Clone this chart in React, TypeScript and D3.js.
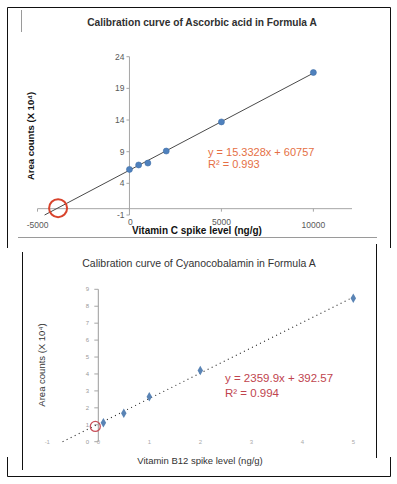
import React, { useEffect, useRef } from "react";
import * as d3 from "d3";

// top chart: Vitamin C (ascorbic acid)
const vitCLevels = [0, 500, 1000, 2000, 5000, 10000];
const vitCAreas = [6.2, 6.9, 7.2, 9.1, 13.7, 21.5]; // X 10^4
const vitCXTicks = [-5000, 0, 5000, 10000];
const vitCYTicks = [-1, 4, 9, 14, 19, 24];
const vitCSlope = 15.3328;
const vitCIntercept = 60757;

// bottom chart: Vitamin B12 (cyanocobalamin)
const b12Levels = [0.1, 0.5, 1, 2, 5];
const b12Areas = [1.12, 1.68, 2.66, 4.2, 8.47];
const b12XTicks = [-1, 0, 1, 2, 3, 4, 5];
const b12YTicks = [0, 1, 2, 3, 4, 5, 6, 7, 8, 9];

const FONT = "'Liberation Sans', Arial, sans-serif";

function fitLine(xs: number[], ys: number[]) {
  const mx = d3.mean(xs) as number;
  const my = d3.mean(ys) as number;
  let sxy = 0, sxx = 0;
  xs.forEach((x, i) => {
    sxy += (x - mx) * (ys[i] - my);
    sxx += (x - mx) * (x - mx);
  });
  const slope = sxy / sxx;
  return { slope, intercept: my - slope * mx };
}

export default function App() {
  const ref = useRef<SVGSVGElement>(null);

  useEffect(() => {
    const svg = d3.select(ref.current);
    svg.selectAll("*").remove();

    // ---- frames
    const frame = svg.append("g").attr("fill", "none").attr("stroke", "#111").attr("stroke-width", 1);
    frame.append("path").attr("d", "M7.5,248 L7.5,7.5 L390.5,7.5 L390.5,248");
    frame.append("path").attr("d", "M7.5,457 L7.5,476.5 L390.5,476.5 L390.5,457");
    frame.append("line").attr("x1", 22.5).attr("x2", 22.5).attr("y1", 252).attr("y2", 470);
    frame.append("line").attr("x1", 376.5).attr("x2", 376.5).attr("y1", 244).attr("y2", 458);
    svg.append("line").attr("x1", 18).attr("x2", 377).attr("y1", 237.5).attr("y2", 237.5)
      .attr("stroke", "#9a9a9a");
    svg.append("line").attr("x1", 21.5).attr("x2", 21.5).attr("y1", 10).attr("y2", 32)
      .attr("stroke", "#9a9a9a");

    // ---- top chart
    const x1 = d3.scaleLinear().domain([-5000, 12100]).range([37.5, 352]);
    const y1 = d3.scaleLinear().domain([-1, 24]).range([215, 56.7]);
    const top = svg.append("g").style("font-family", FONT);

    top.append("text").attr("x", 202).attr("y", 26).attr("text-anchor", "middle")
      .style("font-size", "10.2px").style("font-weight", "bold").attr("fill", "#303030")
      .text("Calibration curve of Ascorbic acid in Formula A");

    top.append("line").attr("x1", x1(0)).attr("x2", x1(0)).attr("y1", y1(24)).attr("y2", y1(-1))
      .attr("stroke", "#a6a6a6");
    top.append("line").attr("x1", x1(-5000)).attr("x2", x1(12100)).attr("y1", y1(0)).attr("y2", y1(0))
      .attr("stroke", "#a6a6a6");
    top.selectAll(".yt").data(vitCYTicks).enter().append("line")
      .attr("x1", x1(0) - 3).attr("x2", x1(0)).attr("y1", (d) => y1(d)).attr("y2", (d) => y1(d))
      .attr("stroke", "#a6a6a6");
    top.selectAll(".xt").data(vitCXTicks).enter().append("line")
      .attr("x1", (d) => x1(d)).attr("x2", (d) => x1(d)).attr("y1", y1(0)).attr("y2", y1(0) + 3)
      .attr("stroke", "#a6a6a6");
    top.selectAll(".yl").data(vitCYTicks).enter().append("text")
      .attr("x", x1(0) - 5).attr("y", (d) => y1(d) + 3).attr("text-anchor", "end")
      .style("font-size", "8.5px").attr("fill", "#595959").text((d) => d);
    top.selectAll(".xl").data(vitCXTicks).enter().append("text")
      .attr("x", (d) => x1(d) + (d === 0 ? 1 : 0)).attr("y", (d) => (d === 0 || d === 5000 ? 225 : 227.5))
      .attr("text-anchor", "middle")
      .style("font-size", "8.5px").attr("fill", "#595959").text((d) => d);

    top.append("text").attr("x", 197).attr("y", 234).attr("text-anchor", "middle")
      .style("font-size", "10px").style("font-weight", "bold").attr("fill", "#111")
      .text("Vitamin C spike level (ng/g)");
    top.append("text").attr("transform", "translate(34,136)rotate(-90)").attr("text-anchor", "middle")
      .style("font-size", "9.5px").style("font-weight", "bold").attr("fill", "#111")
      .text("Area counts (X 10⁴)");

    const trend1 = (x: number) => (vitCSlope * x + vitCIntercept) / 10000;
    const xStart = (-1 * 10000 - vitCIntercept) / vitCSlope;
    top.append("path").datum([xStart, 10000])
      .attr("d", d3.line<number>().x((d) => x1(d)).y((d) => y1(trend1(d))))
      .attr("stroke", "#4a4a4a").attr("stroke-width", 1).attr("fill", "none");

    top.selectAll(".pt").data(vitCLevels).enter().append("circle")
      .attr("cx", (d) => x1(d)).attr("cy", (d, i) => y1(vitCAreas[i])).attr("r", 3)
      .attr("fill", "#4f81bd").attr("stroke", "#3f6fa8").attr("stroke-width", 0.6);

    const xi1 = -vitCIntercept / vitCSlope;
    top.append("circle").attr("cx", x1(xi1) + 1.5).attr("cy", y1(0) - 0.5).attr("r", 9)
      .attr("fill", "none").attr("stroke", "#d8432c").attr("stroke-width", 2);

    top.append("text").attr("x", 208).attr("y", 155.5).style("font-size", "11px").attr("fill", "#e56f45")
      .text(`y = ${vitCSlope}x + ${vitCIntercept}`);
    top.append("text").attr("x", 208).attr("y", 167.5).style("font-size", "11px").attr("fill", "#e56f45")
      .text("R² = 0.993");

    // ---- bottom chart
    const x2 = d3.scaleLinear().domain([-1, 5]).range([47.3, 353.3]);
    const y2 = d3.scaleLinear().domain([0, 9]).range([441.7, 289.3]);
    const bot = svg.append("g").style("font-family", FONT);

    bot.append("text").attr("x", 199).attr("y", 267).attr("text-anchor", "middle")
      .style("font-size", "10.5px").attr("fill", "#333")
      .text("Calibration curve of Cyanocobalamin in Formula A");

    bot.append("line").attr("x1", x2(0)).attr("x2", x2(0)).attr("y1", y2(9)).attr("y2", y2(0))
      .attr("stroke", "#9a9a9a");
    bot.selectAll(".yt").data(b12YTicks).enter().append("line")
      .attr("x1", x2(0) - 4).attr("x2", x2(0)).attr("y1", (d) => y2(d)).attr("y2", (d) => y2(d))
      .attr("stroke", "#a6a6a6");
    bot.selectAll(".yl").data(b12YTicks).enter().append("text")
      .attr("x", 89).attr("y", (d) => y2(d) + 2).attr("text-anchor", "end")
      .style("font-size", "6px").attr("fill", "#999").text((d) => d);
    bot.selectAll(".xl").data(b12XTicks).enter().append("text")
      .attr("x", (d) => x2(d)).attr("y", 444).attr("text-anchor", "middle")
      .style("font-size", "6px").attr("fill", "#aaa").text((d) => d);

    bot.append("text").attr("x", 200).attr("y", 464).attr("text-anchor", "middle")
      .style("font-size", "9.5px").attr("fill", "#333")
      .text("Vitamin B12 spike level (ng/g)");
    bot.append("text").attr("transform", "translate(45,365)rotate(-90)").attr("text-anchor", "middle")
      .style("font-size", "9.5px").attr("fill", "#333")
      .text("Area counts (X 10⁴)");

    const fit = fitLine(b12Levels, b12Areas);
    const bStart = -fit.intercept / fit.slope;
    bot.append("path").datum([bStart, 5])
      .attr("d", d3.line<number>().x((d) => x2(d)).y((d) => y2(fit.slope * d + fit.intercept)))
      .attr("stroke", "#222").attr("stroke-width", 1.1).attr("stroke-dasharray", "1,3.5").attr("fill", "none");

    bot.selectAll(".pt").data(b12Levels).enter().append("path")
      .attr("transform", (d, i) => `translate(${x2(d)},${y2(b12Areas[i])})`)
      .attr("d", d3.symbol(d3.symbolDiamond, 26)())
      .attr("fill", "#5a84b5");

    bot.append("circle").attr("cx", x2(0) - 3).attr("cy", y2(fit.intercept) + 2.5).attr("r", 5)
      .attr("fill", "none").attr("stroke", "#c8505a").attr("stroke-width", 1.3);

    bot.append("text").attr("x", 225).attr("y", 381.5).style("font-size", "11.5px").attr("fill", "#c0444e")
      .text("y = 2359.9x + 392.57");
    bot.append("text").attr("x", 225).attr("y", 397).style("font-size", "11.5px").attr("fill", "#c0444e")
      .text("R² = 0.994");
  }, []);

  return (
    <div style={{ position: "absolute", left: 0, top: 0 }}>
      <svg ref={ref} width={397} height={484} style={{ display: "block", background: "#fff" }} />
    </div>
  );
}
